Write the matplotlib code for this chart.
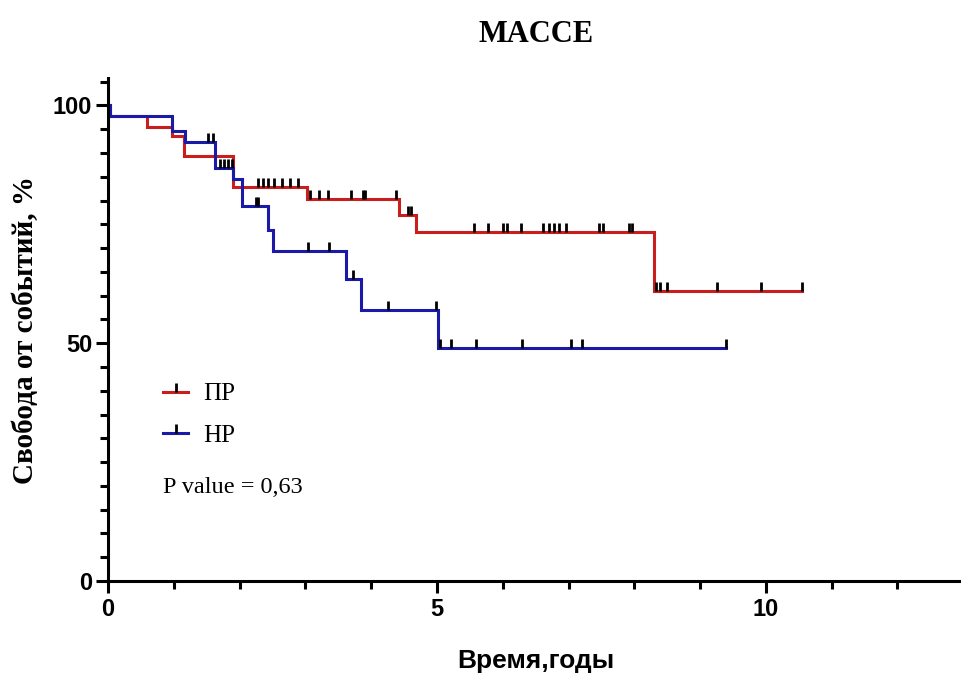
import matplotlib
matplotlib.use("Agg")
import matplotlib.pyplot as plt
import numpy as np
from matplotlib.lines import Line2D
from matplotlib.ticker import MultipleLocator

RED, BLUE, INK = "#c81e1e", "#1a1aa6", "#000000"
SERIF, SANS = "Liberation Serif", "Liberation Sans"

# Kaplan-Meier steps (time in years, survival % after the step)
red_time = [0, 0.03, 0.59, 0.97, 1.15, 1.90, 3.03, 4.42, 4.68, 8.30, 10.55]
red_surv = [100, 97.7, 95.4, 93.6, 89.4, 82.9, 80.4, 76.9, 73.4, 60.9, 60.9]
blue_time = [0, 0.03, 0.97, 1.17, 1.62, 1.90, 2.03, 2.43, 2.51, 3.61, 3.85, 5.01, 9.40]
blue_surv = [100, 97.7, 94.7, 92.3, 86.8, 84.6, 78.8, 73.9, 69.3, 63.5, 56.9, 49.0, 49.0]

# censored observations
red_cens = [2.28, 2.36, 2.43, 2.53, 2.64, 2.76, 2.89, 3.07, 3.20, 3.35, 3.70, 3.88, 3.91,
            4.38, 4.56, 4.61, 5.56, 5.77, 6.00, 6.06, 6.27, 6.61, 6.71, 6.78, 6.86, 6.96,
            7.47, 7.52, 7.92, 7.97, 8.33, 8.39, 8.49, 9.26, 9.93, 10.55]
blue_cens = [1.52, 1.60, 1.70, 1.76, 1.83, 1.88, 2.25, 2.28, 3.04, 3.36, 3.72, 4.25, 4.98,
             5.04, 5.22, 5.60, 6.30, 7.04, 7.21, 9.40]

labels = ["ПР", "НР"]
p_text = "P value = 0,63"


def surv_at(times, surv, t):
    idx = np.searchsorted(times, t, side="right") - 1
    return np.asarray(surv)[idx]


fig = plt.figure(figsize=(9.62, 6.73), dpi=100)
ax = fig.add_axes([0.1123, 0.1367, 0.889, 0.747])

for t, s, c, col in [(red_time, red_surv, red_cens, RED), (blue_time, blue_surv, blue_cens, BLUE)]:
    ax.plot(t, s, drawstyle="steps-post", color=col, lw=2.2, solid_joinstyle="miter")
    ax.plot(c, surv_at(t, s, c), ls="none", marker=2, ms=6.5, mew=2.0, color=INK)

ax.set_xlim(0, 13)
ax.set_ylim(0, 105.7)
ax.xaxis.set_major_locator(MultipleLocator(5))
ax.xaxis.set_minor_locator(MultipleLocator(1))
ax.yaxis.set_major_locator(MultipleLocator(50))
ax.yaxis.set_minor_locator(MultipleLocator(5))
ax.spines[["top", "right"]].set_visible(False)
ax.spines[["left", "bottom"]].set_linewidth(2.2)
ax.tick_params(which="major", length=8.5, width=2.2, direction="out", pad=3)
ax.tick_params(which="minor", length=5.5, width=2.2, direction="out")
for lab in ax.get_xticklabels() + ax.get_yticklabels():
    lab.set_fontfamily(SANS)
    lab.set_fontweight("bold")
    lab.set_fontsize(17)
ax.tick_params(axis="x", pad=4)

ax.set_xlabel("Время,годы", family=SANS, fontweight="bold", fontsize=19, labelpad=20)
ax.set_ylabel("Свобода от событий, %", family=SERIF, fontweight="bold", fontsize=21, labelpad=10)
ax.set_title("MACCE", family=SERIF, fontweight="bold", fontsize=22, pad=26)

handles = [Line2D([], [], color=RED, lw=2.2, marker=2, ms=6.5, mew=2.0, mec=INK),
           Line2D([], [], color=BLUE, lw=2.2, marker=2, ms=6.5, mew=2.0, mec=INK)]
ax.legend(handles, labels, loc="upper left", bbox_to_anchor=(0.0643, 0.394), frameon=False,
          borderaxespad=0, borderpad=0, numpoints=1, handlelength=1.0, handletextpad=0.6,
          labelspacing=0.75, prop={"family": SERIF, "size": 18})
ax.text(0.0643, 0.185, p_text, transform=ax.transAxes, va="center", ha="left",
        family=SERIF, fontsize=17.5)

fig.savefig("out.png", dpi=100)
